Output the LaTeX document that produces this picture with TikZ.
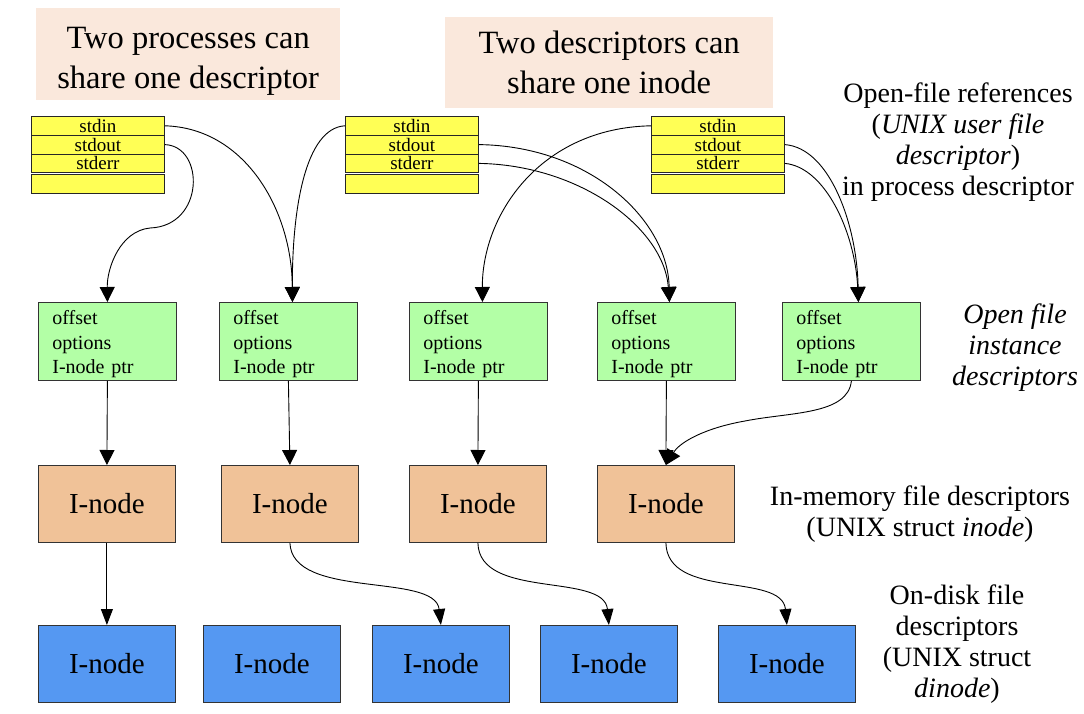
\documentclass[tikz,border=0pt]{standalone}
\usepackage{fontspec}
\setmainfont{Liberation Serif}
\usetikzlibrary{arrows.meta,calc}
\definecolor{tabyellow}{HTML}{FFFF55}
\definecolor{boxgreen}{HTML}{B3FFA6}
\definecolor{boxorange}{HTML}{F0C298}
\definecolor{boxblue}{HTML}{5598F2}
\definecolor{hdrpeach}{HTML}{FAE8DC}
\newcommand{\ofdtext}{\rule{0pt}{20pt}offset\\options\\I-node ptr}
\begin{document}
\begin{tikzpicture}[x=1pt,y=-1pt,
  tabrow/.style={draw=black!85, fill=tabyellow, line width=0.8pt, minimum width=133pt, minimum height=18.8pt, inner sep=0pt, anchor=north west, font=\fontsize{19}{19}\selectfont},
  ofd/.style={draw=black!80, fill=boxgreen, line width=0.8pt, anchor=north west, text width=110pt, inner xsep=14pt, inner ysep=0pt, minimum height=78pt, align=left, font=\fontsize{20}{24.5}\selectfont},
  mem/.style={draw=black!80, fill=boxorange, line width=0.8pt, anchor=north west, minimum width=137pt, minimum height=77pt, inner sep=0pt, font=\fontsize{29}{29}\selectfont},
  disk/.style={mem, fill=boxblue},
  hdr/.style={fill=hdrpeach, anchor=north west, inner sep=0pt, align=center, font=\fontsize{32.5}{40}\selectfont},
  lbl/.style={align=center, inner sep=0pt, font=\fontsize{28}{31}\selectfont},
  conn/.style={line width=0.9pt, -{Triangle[length=15pt,width=15pt]}},
  conn2/.style={line width=0.9pt, -{Triangle[length=16pt,width=12pt]}},
]
\useasboundingbox (0,0) rectangle (1084,714);

% headers
\node[hdr, minimum width=304pt, minimum height=92pt] (h1) at (36,8) {\rule{0pt}{35pt}Two processes can\\share one descriptor};
\node[hdr, minimum width=328pt, minimum height=91pt] (h2) at (445,17) {Two descriptors can\\share one inode};

% tables
\node[tabrow] (la) at (31,116) {stdin};
\node[tabrow] (lo) at (31,134.8) {stdout};
\node[tabrow] (le) at (31,153.6) {stderr};
\node[tabrow] (lx) at (31,174.4) {};
\node[tabrow] (ma) at (345,116) {stdin};
\node[tabrow] (mo) at (345,134.8) {stdout};
\node[tabrow] (me) at (345,153.6) {stderr};
\node[tabrow] (mx) at (345,174.4) {};
\node[tabrow] (ra) at (651,116) {stdin};
\node[tabrow] (ro) at (651,134.8) {stdout};
\node[tabrow] (re) at (651,153.6) {stderr};
\node[tabrow] (rx) at (651,174.4) {};

% open file instance descriptors
\node[ofd] (g1) at (38,302) {\ofdtext};
\node[ofd] (g2) at (219,302) {\ofdtext};
\node[ofd] (g3) at (409,302) {\ofdtext};
\node[ofd] (g4) at (597,302) {\ofdtext};
\node[ofd] (g5) at (782,302) {\ofdtext};

% in-memory inodes
\node[mem] (o1) at (38,465) {I-node};
\node[mem] (o2) at (221,465) {I-node};
\node[mem] (o3) at (409,465) {I-node};
\node[mem] (o4) at (597,465) {I-node};

% on-disk inodes
\node[disk] (b1) at (38,625) {I-node};
\node[disk] (b2) at (203,625) {I-node};
\node[disk] (b3) at (372,625) {I-node};
\node[disk] (b4) at (540,625) {I-node};
\node[disk] (b5) at (718,625) {I-node};

% labels
\node[lbl] (t1) at (958,142) {Open-file references\\(\textit{UNIX user file}\\\textit{descriptor})\\in process descriptor};
\node[lbl, font=\fontsize{28}{31}\selectfont\itshape] (t2) at (1015,348) {Open file\\instance\\descriptors};
\node[lbl] (t3) at (920,514) {In-memory file descriptors\\(UNIX struct \textit{inode})};
\node[lbl] (t4) at (957,644) {On-disk file\\descriptors\\(UNIX struct\\\textit{dinode})};

% waypoints
\coordinate (lmid) at (150,228);
\coordinate (gmid) at (745,421);

% table -> open file descriptors
\draw[conn] (lo.east) .. controls (205,146) and (205,226) .. (lmid) .. controls (120,231) and (107,268) .. (g1.north);
\draw[conn] (la.east) .. controls (245,128) and (292,210) .. ($(g2.north)+(4,0)$);
\draw[conn] (ma.west) .. controls (305,128) and (292,210) .. ($(g2.north)+(4,0)$);
\draw[conn] (mo.east) .. controls (590,146) and (668,220) .. ($(g4.north)+(3,0)$);
\draw[conn] (me.east) .. controls (580,165) and (664,228) .. ($(g4.north)+(3,0)$);
\draw[conn] (ra.west) .. controls (540,128) and (482,215) .. ($(g3.north)+(4,0)$);
\draw[conn] (ro.east) .. controls (830,148) and (857,225) .. ($(g5.north)+(7,0)$);
\draw[conn] (re.east) .. controls (825,167) and (855,232) .. ($(g5.north)+(7,0)$);

% open file descriptors -> in-memory inodes
\draw[conn] (g1.south) -- (o1.north);
\draw[conn] (g2.south) -- (o2.north);
\draw[conn] (g3.south) -- (o3.north);
\draw[conn] (g4.south) -- (o4.north);
\draw[conn] (g5.south) .. controls (848,415) and (790,412) .. (gmid) .. controls (705,428) and (680,442) .. (o4.north);

% in-memory -> on-disk
\draw[conn2] (o1.south) -- (b1.north);
\draw[conn2] (o2.south) .. controls (292,600) and (435,572) .. (b3.north);
\draw[conn2] (o3.south) .. controls (479,600) and (604,572) .. (b4.north);
\draw[conn2] (o4.south) .. controls (667,600) and (782,572) .. (b5.north);
\end{tikzpicture}
\end{document}
